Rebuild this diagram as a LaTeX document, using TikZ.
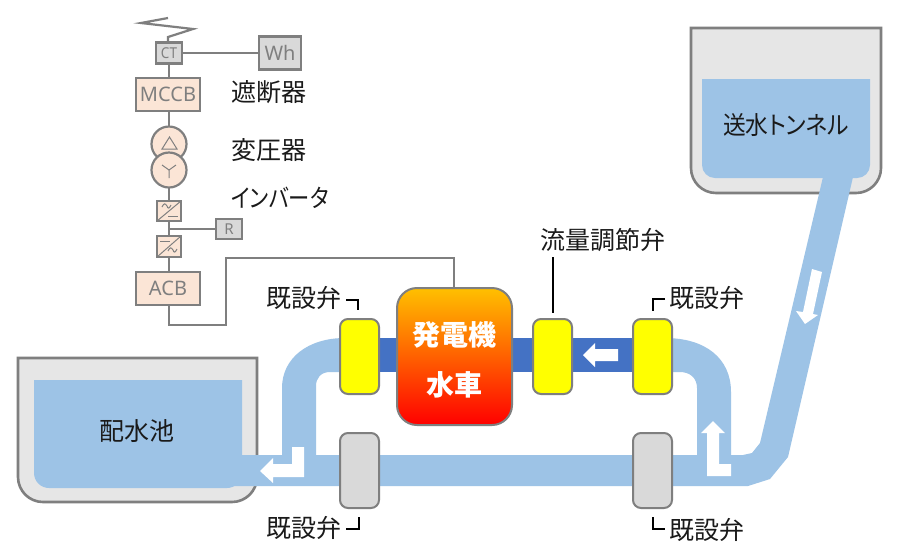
\documentclass[tikz,border=0pt]{standalone}
\usepackage{fontspec}
\setmainfont{Noto Sans}
\newfontfamily\jp[RawFeature=+palt]{Noto Sans CJK JP}
\definecolor{edge}{HTML}{7F7F7F}
\definecolor{water}{HTML}{9DC3E6}
\definecolor{tank}{HTML}{E6E6E6}
\definecolor{dark}{HTML}{4472C4}
\definecolor{peach}{HTML}{FBE5D6}
\definecolor{lgray}{HTML}{D9D9D9}
\definecolor{ytxt}{HTML}{1A1A1A}
\definecolor{vyellow}{HTML}{FFFF00}
\definecolor{gentop}{HTML}{FFC000}
\definecolor{genbot}{HTML}{FF0000}
\tikzset{
  boxbase/.style={draw=edge,line width=2.2pt,inner sep=0pt,outer sep=0pt,text=edge},
  graybox/.style={boxbase,fill=lgray},
  peachbox/.style={boxbase,fill=peach},
  valve/.style={draw=edge,line width=2pt,rounded corners=8pt,inner sep=0pt,outer sep=0pt,minimum width=39pt,minimum height=75pt},
  yellowvalve/.style={valve,fill=vyellow},
  grayvalve/.style={valve,fill=lgray},
  wire/.style={draw=edge,line width=2.2pt},
  callout/.style={draw=black,line width=1.6pt},
  label/.style={font=\jp\fontsize{25}{25}\selectfont,text=ytxt,inner sep=0pt},
  genlabel/.style={font=\jp\bfseries\fontsize{28}{28}\selectfont,text=white,inner sep=0pt},
  tankbody/.style={draw=edge,line width=2.6pt,fill=tank},
  flow/.style={fill=white,draw=none},
  pipe/.style={fill=water,draw=none}
}
\begin{document}
\begin{tikzpicture}[x=1pt,y=-1pt]
\useasboundingbox (0,0) rectangle (897,550);
\fill[white] (0,0) rectangle (897,550);
% tanks
\path[tankbody] (18,358) [rounded corners=25pt] -- (18,502) -- (257,502) [sharp corners] -- (257,358) -- cycle;
\path[pipe] (34,380) [rounded corners=15pt] -- (34,488) -- (242,488) [sharp corners] -- (242,380) -- cycle;
\path[tankbody] (691,28) [rounded corners=25pt] -- (691,193) -- (881,193) [sharp corners] -- (881,28) -- cycle;
\path[pipe] (702,79) [rounded corners=13pt] -- (702,178) -- (870,178) [sharp corners] -- (870,79) -- cycle;
% pipes
\path[pipe] (230,455) -- (743,455) -- (752,453) -- (760,443) -- (823,177) -- (853,177) -- (788,457) -- (770,479) -- (748,486) -- (230,486) -- cycle;
\path[pipe] (282,470) -- (282,388) .. controls (282,358) and (308,338) .. (345,338) -- (345,372) -- (330,372) .. controls (321,372) and (316,378) .. (316,386) -- (316,470) -- cycle;
\path[pipe] (665,338) .. controls (705,338) and (731,358) .. (731,392) -- (731,470) -- (697,470) -- (697,388) .. controls (697,378) and (690,372) .. (680,372) -- (665,372) -- cycle;
\fill[dark] (375,338) rectangle (640,372);
% valves and machine
\node[yellowvalve] (v1) at (359.5,356.5) {};
\node[yellowvalve] (v2) at (552.5,356.5) {};
\node[yellowvalve] (v3) at (652.5,356.5) {};
\node[grayvalve] (v4) at (359.5,470.5) {};
\node[grayvalve] (v5) at (652.5,470.5) {};
\node[draw=edge,line width=2pt,rounded corners=20pt,top color=gentop,bottom color=genbot,minimum width=115pt,minimum height=137pt,inner sep=0pt,outer sep=0pt] (gen) at (454.5,356.5) {};
\node[genlabel] (g1) at (454,335) {発電機};
\node[genlabel] (g2) at (454,385) {水車};
% flow arrows
\fill[flow] (583,355) -- (595,343) -- (595,349) -- (618,349) -- (618,361) -- (595,361) -- (595,367) -- cycle;
\fill[flow] (260,471) -- (273,458) -- (273,464) -- (292,464) -- (292,447) -- (304,447) -- (304,477) -- (273,477) -- (273,483) -- cycle;
\fill[flow] (713,421) -- (725,433) -- (719,433) -- (719,464) -- (731,464) -- (731,476) -- (707,476) -- (707,433) -- (701,433) -- cycle;
\fill[flow] (812,269) -- (822,272) -- (813,314) -- (818,315) -- (805,324) -- (796,311) -- (803,312) -- cycle;
% electrical
\coordinate (z0) at (168,18);
\coordinate (z1) at (141,23);
\coordinate (z2) at (193,29);
\coordinate (z3) at (168,37);
\node[graybox,minimum width=26pt,minimum height=21pt,font=\fontsize{15}{15}\selectfont] (ct) at (169,53) {\scalebox{0.9}[1]{CT}};
\node[graybox,minimum width=42pt,minimum height=33pt,font=\fontsize{20}{20}\selectfont] (wh) at (280,53) {Wh};
\node[peachbox,minimum width=64pt,minimum height=33pt,font=\fontsize{20}{20}\selectfont] (mccb) at (168,94.5) {MCCB};
\node[circle,boxbase,fill=peach,minimum size=35pt] (tr1) at (169,144) {};
\node[circle,boxbase,fill=peach,minimum size=35pt] (tr2) at (169,170) {};
\node[peachbox,minimum width=24pt,minimum height=20pt] (inv1) at (169,211) {};
\node[peachbox,minimum width=24pt,minimum height=21pt] (inv2) at (169,246.5) {};
\node[graybox,minimum width=26pt,minimum height=20pt,font=\fontsize{15}{15}\selectfont] (rbox) at (229,229) {R};
\node[peachbox,minimum width=64pt,minimum height=33pt,font=\fontsize{20}{20}\selectfont] (acb) at (168,288.5) {ACB};
\coordinate (jn) at (169,229);
\coordinate (e1) at (169,325);
\coordinate (e2) at (226,325);
\coordinate (e3) at (226,258);
\coordinate (e4) at (454,258);
\path[wire] (z0) -- (z1) -- (z2) -- (z3) -- (ct.north -| z3);
\path[wire] (ct) -- (wh);
\path[wire] (ct.south) -- (ct.south |- mccb.north);
\path[wire] (mccb.south -| tr1) -- (tr1.north);
\path[wire] (tr2.south) -- (inv1.north);
\path[wire] (inv1.south) -- (inv2.north);
\path[wire] (jn) -- (rbox.west);
\path[wire] (inv2.south) -- (inv2.south |- acb.north);
\path[wire] (acb.south -| jn) -- (e1) -- (e2) -- (e3) -- (e4) -- (gen.north -| e4);
% transformer symbols
\draw[edge,line width=1pt,line join=miter] (169.5,137) -- (177,149) -- (162,149) -- cycle;
\draw[edge,line width=1pt] (169,170) -- (169,178) (169,170) -- (162,165) (169,170) -- (176,165);
% converter symbols
\draw[edge,line width=1pt] (inv1.south west) -- (inv1.north east);
\draw[edge,line width=1pt] (inv2.south west) -- (inv2.north east);
\draw[edge,line width=1pt] (162,207) .. controls (164,203) and (165,203) .. (167,206) .. controls (168,209) and (169,209) .. (171,205);
\draw[edge,line width=1pt] (168,216) -- (178,216);
\draw[edge,line width=1pt] (160,241) -- (170,241);
\draw[edge,line width=1pt] (168,251) .. controls (170,247) and (171,247) .. (173,250) .. controls (174,253) and (175,253) .. (177,249);
% labels
\node[label] (l1) at (269,92) {遮断器};
\node[label] (l2) at (269,150) {変圧器};
\node[label] (l3) at (280,198) {\scalebox{0.85}[1]{インバータ}};
\node[label] (l4) at (603,240) {流量調節弁};
\node[label] (l5) at (304,298) {既設弁};
\node[label] (l6) at (706.5,298) {既設弁};
\node[label] (l7) at (304,528) {既設弁};
\node[label] (l8) at (706.5,530) {既設弁};
\node[label] (l9) at (137,431) {配水池};
\node[label] (l10) at (786,125) {\scalebox{0.91}[1]{送水トンネル}};
% callouts
\coordinate (c1a) at (346,300); \coordinate (c1b) at (358,300); \coordinate (c1c) at (358,310);
\coordinate (c2a) at (553,257); \coordinate (c2b) at (553,313);
\coordinate (c3a) at (665,299); \coordinate (c3b) at (653,299); \coordinate (c3c) at (653,311);
\coordinate (c4a) at (346,529); \coordinate (c4b) at (359,529); \coordinate (c4c) at (359,517);
\coordinate (c5a) at (653,517); \coordinate (c5b) at (653,529); \coordinate (c5c) at (665,529);
\draw[callout] (c1a) -- (c1b) -- (c1c);
\draw[callout] (c2a) -- (c2b);
\draw[callout] (c3a) -- (c3b) -- (c3c);
\draw[callout] (c4a) -- (c4b) -- (c4c);
\draw[callout] (c5a) -- (c5b) -- (c5c);
\end{tikzpicture}
\end{document}
